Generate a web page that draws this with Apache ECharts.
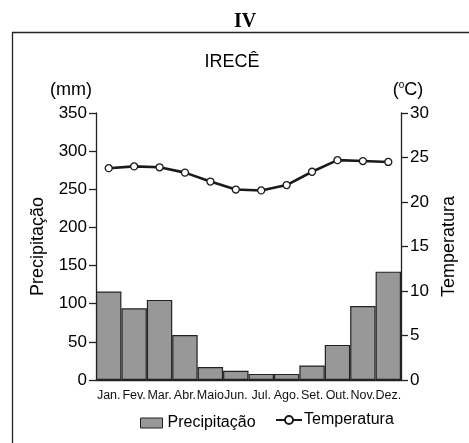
<!DOCTYPE html>
<html>
<head>
<meta charset="utf-8">
<script src="https://cdn.jsdelivr.net/npm/echarts@6/dist/echarts.min.js"></script>
<style>
    html, body { margin: 0; padding: 0; background: #fff; }
    #chart { width: 469px; height: 443px; }
</style>
</head>
<body>
<div id="chart"></div>
<script>
// Climograma de Irecê
const months = ['Jan.', 'Fev.', 'Mar.', 'Abr.', 'Maio', 'Jun.', 'Jul.', 'Ago.', 'Set.', 'Out.', 'Nov.', 'Dez.'];
const precipitation = [116, 94, 105, 59, 17, 12, 8, 8, 19, 46, 97, 142];
const temperature = [23.8, 24.0, 23.9, 23.3, 22.3, 21.4, 21.3, 21.9, 23.4, 24.7, 24.6, 24.5];
const mmMax = 350, mmStep = 50;
const tempMax = 30, tempStep = 5;

const font = '"Liberation Sans", Arial, sans-serif';
const chart = echarts.init(document.getElementById('chart'), null, { renderer: 'canvas' });

chart.setOption({
    animation: false,
    textStyle: { fontFamily: font, color: '#000' },
    grid: { left: 96, right: 68, top: 113, bottom: 63 },
    graphic: [
        { type: 'rect', shape: { x: 12.5, y: 32.5, width: 600, height: 600 },
          style: { fill: 'none', stroke: '#222', lineWidth: 1.3 } },
        { type: 'text', x: 245, y: 22, style: { text: 'IV', font: 'bold 20px "Liberation Serif", serif',
          fill: '#000', align: 'center', verticalAlign: 'middle' } },
        { type: 'text', x: 232, y: 62, style: { text: 'IRECÊ', font: '18px ' + font,
          fill: '#000', align: 'center', verticalAlign: 'middle' } },
        { type: 'text', x: 71, y: 90, style: { text: '(mm)', font: '18px ' + font,
          fill: '#000', align: 'center', verticalAlign: 'middle' } },
        { type: 'text', x: 408, y: 90, style: {
            text: '({s|o}C)', font: '18px ' + font, fill: '#000', align: 'center', verticalAlign: 'middle',
            rich: { s: { fontSize: 10, fontFamily: font, verticalAlign: 'top', padding: [0, 0, 9, 0] } }
        } }
    ],
    legend: [
        { data: ['Precipitação'], left: 135, top: 410, icon: 'rect', itemWidth: 22, itemHeight: 10, itemGap: 4,
          textStyle: { fontSize: 16, fontFamily: font, color: '#000', padding: [6, 0, 0, 0] },
          itemStyle: { borderColor: '#222', borderWidth: 1 } },
        { data: ['Temperatura'], left: 270, top: 407, itemWidth: 26, itemHeight: 10, itemGap: 3,
          textStyle: { fontSize: 16, fontFamily: font, color: '#000', padding: [0, 0, 4, -3] } }
    ],
    xAxis: {
        type: 'category',
        data: months,
        axisLine: { lineStyle: { color: '#222', width: 1.3 } },
        axisTick: { length: 6, lineStyle: { color: '#222', width: 1.3 } },
        axisLabel: { interval: 0, fontSize: 12.5, color: '#111', margin: 9 }
    },
    yAxis: [
        {
            type: 'value', min: 0, max: mmMax, interval: mmStep, position: 'left',
            name: 'Precipitação', nameLocation: 'middle', nameGap: 49, nameRotate: 90,
            nameTextStyle: { fontSize: 18, color: '#000' },
            splitLine: { show: false },
            axisLine: { show: true, lineStyle: { color: '#222', width: 1.3 } },
            axisTick: { show: true, length: 7, lineStyle: { color: '#222', width: 1.3 } },
            axisLabel: { fontSize: 17, color: '#000', margin: 9 }
        },
        {
            type: 'value', min: 0, max: tempMax, interval: tempStep, position: 'right',
            name: 'Temperatura', nameLocation: 'middle', nameGap: 33, nameRotate: 90,
            nameTextStyle: { fontSize: 18, color: '#000' },
            splitLine: { show: false },
            axisLine: { show: true, lineStyle: { color: '#222', width: 1.3 } },
            axisTick: { show: true, length: 7, lineStyle: { color: '#222', width: 1.3 } },
            axisLabel: { fontSize: 17, color: '#000', margin: 9 }
        }
    ],
    series: [
        {
            name: 'Precipitação', type: 'bar', yAxisIndex: 0,
            data: precipitation, barCategoryGap: '0%',
            itemStyle: { color: '#989898', borderColor: '#222', borderWidth: 1.2 }
        },
        {
            name: 'Temperatura', type: 'line', yAxisIndex: 1,
            data: temperature,
            symbol: 'circle', symbolSize: 7,
            lineStyle: { color: '#1a1a1a', width: 2.6 },
            itemStyle: { color: '#fff', borderColor: '#1a1a1a', borderWidth: 1.3 }
        }
    ]
});
</script>
</body>
</html>
